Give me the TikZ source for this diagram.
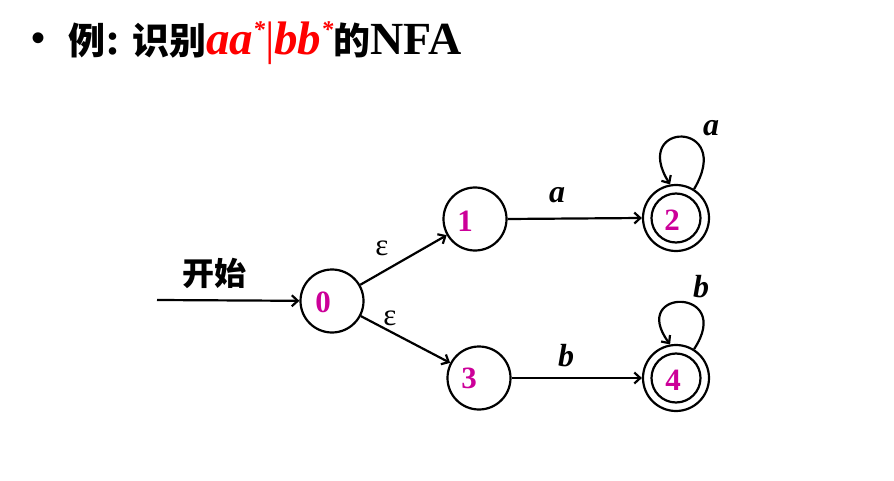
\documentclass[tikz,border=0pt]{standalone}
\usepackage{fontspec}
\setmainfont{Liberation Serif}
\newfontfamily\cjkfont{Noto Sans CJK SC}
\newfontfamily\bulletfont{Liberation Sans}
\usetikzlibrary{arrows.meta,calc}
\definecolor{statenum}{RGB}{204,0,153}
\newcommand{\tstar}{{\fontsize{24}{24}\selectfont\raisebox{17pt}{*}}}
\tikzset{
  state/.style={circle,draw,line width=2.2pt,minimum size=63pt,inner sep=0pt},
  accept/.style={state,minimum size=66pt},
  inner/.style={circle,draw,line width=2.2pt,minimum size=49pt,inner sep=0pt},
  num/.style={text=statenum,font=\fontsize{31}{31}\selectfont\bfseries,inner sep=0pt},
  sym/.style={font=\fontsize{32}{32}\selectfont\bfseries\itshape,inner sep=0pt,anchor=base},
  eps/.style={font=\fontsize{31}{31}\selectfont,inner sep=0pt,anchor=base},
  edge/.style={-{Straight Barb[length=6pt,width=11pt,line width=2.2pt]},line width=2.2pt},
}
\begin{document}
\begin{tikzpicture}[x=1pt,y=-1pt]
\useasboundingbox (0,0) rectangle (894,481);
% title
\node[font=\bulletfont\fontsize{40}{40}\selectfont,inner sep=0pt] (bul) at (39,42) {•};
\node[anchor=base west,inner sep=0pt] (title) at (68,55)
 {{\cjkfont\bfseries\fontsize{37}{37}\selectfont 例}{\fontsize{46}{46}\selectfont\bfseries:\ }{\cjkfont\bfseries\fontsize{37}{37}\selectfont 识别}{\color{red}\fontsize{47}{47}\selectfont\bfseries\itshape aa\tstar\textup{\textmd{|}}bb\tstar}{\cjkfont\bfseries\fontsize{37}{37}\selectfont 的}{\fontsize{46}{46}\selectfont\bfseries NFA}};
% states
\node[state] (q0) at (332,301) {};
\node[state] (q1) at (475,219) {};
\node[state] (q3) at (479,378) {};
\node[accept] (q2) at (676,218) {};
\node[accept] (q4) at (676,378) {};
\node[inner] (q2i) at (676,218) {};
\node[inner] (q4i) at (676,378) {};
\node[num] (n0) at (323,302) {0};
\node[num] (n1) at (465,221) {1};
\node[num] (n3) at (469,378) {3};
\node[num] (n2) at (672,220) {2};
\node[num] (n4) at (673,380) {4};
% start
\coordinate (s) at (157,300);
\draw[edge] (s) -- (q0);
\node[font=\cjkfont\bfseries\fontsize{32}{32}\selectfont,inner sep=0pt] (start) at (214,273) {开始};
% transitions
\draw[edge] (q0) -- (q1);
\draw[edge] (q0) -- (q3);
\draw[edge] (q1.east) -- (q2.west);
\draw[edge] (q3.east) -- (q4.west);
\draw[edge] (q2.58) .. controls +(41,-69) and +(-40,-64) .. (q2.100);
\draw[edge] (q4.58) .. controls +(41,-62) and +(-42,-57) .. (q4.100);
% labels
\node[eps] (e1) at (382,255) {ε};
\node[eps] (e2) at (390,325) {ε};
\node[sym] (la) at (557,203) {a};
\node[sym] (lb) at (566,366) {b};
\node[sym] (la2) at (711,136) {a};
\node[sym] (lb2) at (701,297) {b};
\end{tikzpicture}
\end{document}
